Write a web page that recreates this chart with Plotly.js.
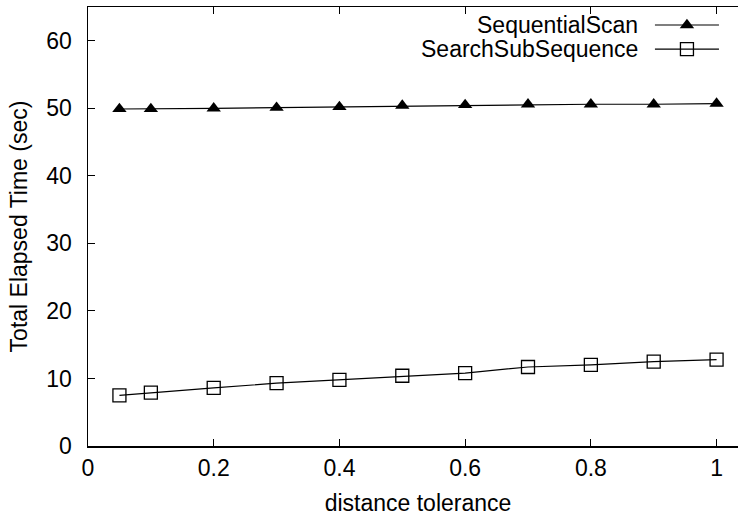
<!DOCTYPE html>
<html>
<head>
<meta charset="utf-8">
<script src="https://cdn.plot.ly/plotly-3.0.1.min.js"></script>
<style>
html,body{margin:0;padding:0;overflow:hidden;background:#fff;width:738px;height:516px;}
#chart{width:760px;height:516px;}
</style>
</head>
<body>
<div id="chart"></div>
<script>
// Data
const tolerance = [0.05, 0.1, 0.2, 0.3, 0.4, 0.5, 0.6, 0.7, 0.8, 0.9, 1.0];
const sequentialScan = [49.9, 49.9, 50.0, 50.1, 50.2, 50.4, 50.5, 50.6, 50.6, 50.6, 50.7];
const searchSubSequence = [7.5, 7.9, 8.6, 9.3, 9.8, 10.4, 10.8, 11.7, 12.0, 12.5, 12.8];
const seriesNames = ["SequentialScan", "SearchSubSequence"];
const xTickVals = [0, 0.2, 0.4, 0.6, 0.8, 1];
const xTickText = ["0", "0.2", "0.4", "0.6", "0.8", "1"];
const yTickVals = [0, 10, 20, 30, 40, 50, 60];
const yTickText = ["0", "10", "20", "30", "40", "50", "60"];

const FONT = "Liberation Sans, Arial, Helvetica, sans-serif";
const FS = 23;

// Legend key positions (paper-like coords on an overlay axis)
const legendKeyX = [0.9075, 0.9075];
const legendKeyY = [0.959, 0.904];

const triMarker = {symbol: "triangle-up", size: 12.5, color: "#000"};
const sqMarker = {symbol: "square-open", size: 13, color: "#000", line: {width: 1.3, color: "#000"}};

const traces = [
  {
    x: tolerance, y: sequentialScan, name: seriesNames[0],
    mode: "lines+markers", type: "scatter",
    line: {color: "#000", width: 1.2}, marker: triMarker,
    showlegend: false, cliponaxis: false
  },
  {
    x: tolerance, y: searchSubSequence, name: seriesNames[1],
    mode: "lines+markers", type: "scatter",
    line: {color: "#000", width: 1.2}, marker: sqMarker,
    showlegend: false, cliponaxis: false
  },
  {
    x: [legendKeyX[0]], y: [legendKeyY[0]], xaxis: "x2", yaxis: "y2",
    mode: "markers", type: "scatter", hoverinfo: "skip", marker: triMarker,
    showlegend: false, cliponaxis: false
  },
  {
    x: [legendKeyX[1]], y: [legendKeyY[1]], xaxis: "x2", yaxis: "y2",
    mode: "markers", type: "scatter", hoverinfo: "skip", marker: sqMarker,
    showlegend: false, cliponaxis: false
  }
];

const layout = {
  width: 760, height: 516,
  margin: {l: 88, r: 12, t: 7, b: 70},
  paper_bgcolor: "#fff", plot_bgcolor: "#fff",
  font: {family: FONT, size: FS, color: "#000"},
  showlegend: false,
  xaxis: {
    range: [0, 1.05], tickvals: xTickVals, ticktext: xTickText,
    ticks: "inside", ticklen: 7, tickwidth: 1, tickcolor: "#000",
    showline: true, linecolor: "#000", linewidth: 1.5, mirror: "ticks",
    showgrid: false, zeroline: false, ticklabelstandoff: 1,
    tickfont: {family: FONT, size: FS, color: "#000"},
    title: {text: "distance tolerance", font: {family: FONT, size: FS, color: "#000"}, standoff: 18},
    automargin: false
  },
  yaxis: {
    range: [0, 65], tickvals: yTickVals, ticktext: yTickText,
    ticks: "inside", ticklen: 7, tickwidth: 1, tickcolor: "#000",
    showline: true, linecolor: "#000", linewidth: 1.5, mirror: "ticks",
    showgrid: false, zeroline: false, ticklabelstandoff: 10,
    tickfont: {family: FONT, size: FS, color: "#000"},
    title: {text: "Total Elapsed Time (sec)", font: {family: FONT, size: FS, color: "#000"}, standoff: 12},
    automargin: false
  },
  xaxis2: {overlaying: "x", range: [0, 1], visible: false, fixedrange: true},
  yaxis2: {overlaying: "y", range: [0, 1], visible: false, fixedrange: true},
  annotations: [
    {xref: "paper", yref: "paper", x: 0.837, y: legendKeyY[0], xanchor: "right", yanchor: "middle",
     text: seriesNames[0], showarrow: false, font: {family: FONT, size: FS, color: "#000"}},
    {xref: "paper", yref: "paper", x: 0.837, y: legendKeyY[1], xanchor: "right", yanchor: "middle",
     text: seriesNames[1], showarrow: false, font: {family: FONT, size: FS, color: "#000"}}
  ],
  shapes: [
    {type: "line", xref: "paper", yref: "paper", x0: 0.859, x1: 0.956, y0: legendKeyY[0], y1: legendKeyY[0],
     line: {color: "#000", width: 1.2}},
    {type: "line", xref: "paper", yref: "paper", x0: 0.859, x1: 0.956, y0: legendKeyY[1], y1: legendKeyY[1],
     line: {color: "#000", width: 1.2}}
  ]
};

Plotly.newPlot("chart", traces, layout, {displayModeBar: false, staticPlot: true});
</script>
</body>
</html>
